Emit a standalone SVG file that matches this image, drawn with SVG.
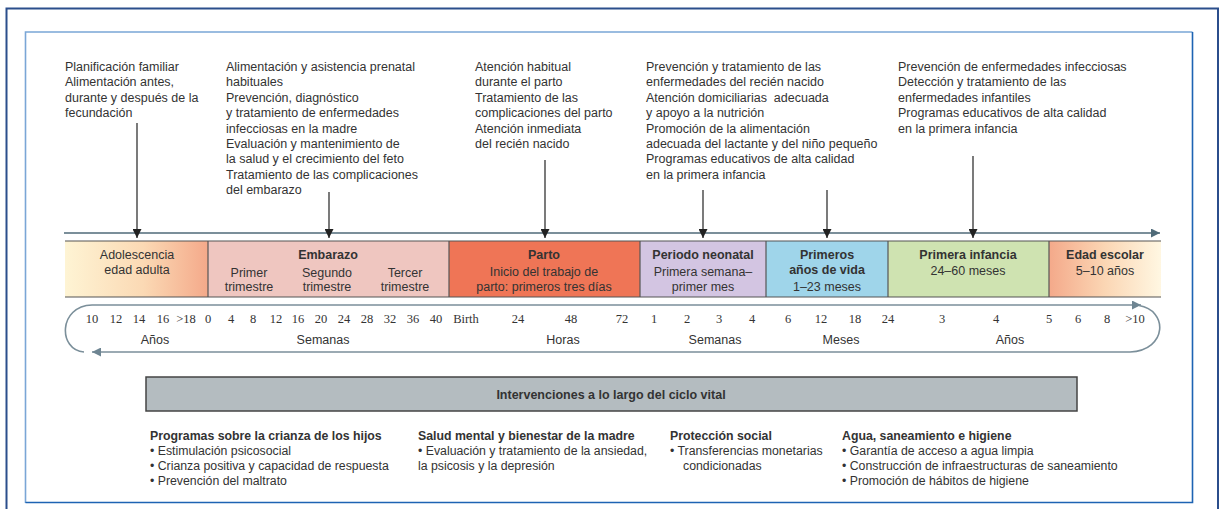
<svg xmlns="http://www.w3.org/2000/svg" width="1219" height="509" viewBox="0 0 1219 509">
<defs>
<style>
text{font-family:"Liberation Sans",Arial,sans-serif;fill:#333;}
.t{font-size:12.5px;}
.b{font-size:12.5px;font-weight:bold;}
.c{text-anchor:middle;}
.n{font-family:"Liberation Serif","DejaVu Serif",serif;font-size:12.5px;text-anchor:middle;fill:#333;}
.s{font-size:12.3px;}
.sb{font-size:12.3px;font-weight:bold;}
.pre{white-space:pre;}
.dn{stroke:#333;stroke-width:1.3;fill:none;marker-end:url(#ah);}
.band{stroke:#555;stroke-width:1.2;}
.loop{stroke:#7b8f9a;stroke-width:1.6;fill:none;}
</style>
<marker id="ah" viewBox="0 0 10 10" refX="10" refY="5" markerWidth="9" markerHeight="9" orient="auto" markerUnits="userSpaceOnUse"><path d="M0,0 L10,5 L0,10 z" fill="#222"/></marker>
<marker id="ta" viewBox="0 0 10 10" refX="10" refY="5" markerWidth="10" markerHeight="9" orient="auto" markerUnits="userSpaceOnUse"><path d="M0,0 L10,5 L0,10 z" fill="#4f6a78"/></marker>
<marker id="la" viewBox="0 0 10 10" refX="10" refY="5" markerWidth="10" markerHeight="9" orient="auto" markerUnits="userSpaceOnUse"><path d="M0,0 L10,5 L0,10 z" fill="#6e8592"/></marker>
<linearGradient id="gAdol" x1="0" y1="0" x2="1" y2="0"><stop offset="0" stop-color="#fef4d4"/><stop offset="0.55" stop-color="#fbd9b4"/><stop offset="1" stop-color="#f4a98a"/></linearGradient>
<linearGradient id="gEsc" x1="0" y1="0" x2="1" y2="0"><stop offset="0" stop-color="#f4a98a"/><stop offset="0.5" stop-color="#fbd6b4"/><stop offset="1" stop-color="#fff7e2"/></linearGradient>
</defs>
<rect width="1219" height="509" fill="#fff"/>
<!-- frames -->
<rect x="6.5" y="8.5" width="1211.5" height="520" fill="none" stroke="#2b4e8c" stroke-width="2"/>
<path d="M25.5,503 L25.5,32 L1192.5,32" fill="none" stroke="#7aa6d6" stroke-width="1.6"/>
<path d="M1192.5,32 L1192.5,502.5 L25.5,502.5" fill="none" stroke="#1d63b3" stroke-width="1.6"/>

<!-- top intervention texts -->
<g id="txt-preconcepcion">
<text class="t" x="65" y="71">Planificación familiar</text>
<text class="t" x="65" y="86.4">Alimentación antes,</text>
<text class="t" x="65" y="101.8">durante y después de la</text>
<text class="t" x="65" y="117.2">fecundación</text>
</g>
<g id="txt-embarazo">
<text class="t" x="226" y="71">Alimentación y asistencia prenatal</text>
<text class="t" x="226" y="86.4">habituales</text>
<text class="t" x="226" y="101.8">Prevención, diagnóstico</text>
<text class="t" x="226" y="117.2">y tratamiento de enfermedades</text>
<text class="t" x="226" y="132.6">infecciosas en la madre</text>
<text class="t" x="226" y="148">Evaluación y mantenimiento de</text>
<text class="t" x="226" y="163.4">la salud y el crecimiento del feto</text>
<text class="t" x="226" y="178.8">Tratamiento de las complicaciones</text>
<text class="t" x="226" y="194.2">del embarazo</text>
</g>
<g id="txt-parto">
<text class="t" x="475" y="71">Atención habitual</text>
<text class="t" x="475" y="86.4">durante el parto</text>
<text class="t" x="475" y="101.8">Tratamiento de las</text>
<text class="t" x="475" y="117.2">complicaciones del parto</text>
<text class="t" x="475" y="132.6">Atención inmediata</text>
<text class="t" x="475" y="148">del recién nacido</text>
</g>
<g id="txt-neonatal">
<text class="t" x="646" y="71">Prevención y tratamiento de las</text>
<text class="t" x="646" y="86.4">enfermedades del recién nacido</text>
<text class="t pre" x="646" y="101.8">Atención domiciliarias  adecuada</text>
<text class="t" x="646" y="117.2">y apoyo a la nutrición</text>
<text class="t" x="646" y="132.6">Promoción de la alimentación</text>
<text class="t" x="646" y="148">adecuada del lactante y del niño pequeño</text>
<text class="t" x="646" y="163.4">Programas educativos de alta calidad</text>
<text class="t" x="646" y="178.8">en la primera infancia</text>
</g>
<g id="txt-infancia">
<text class="t" x="898" y="71">Prevención de enfermedades infecciosas</text>
<text class="t" x="898" y="86.4">Detección y tratamiento de las</text>
<text class="t" x="898" y="101.8">enfermedades infantiles</text>
<text class="t" x="898" y="117.2">Programas educativos de alta calidad</text>
<text class="t" x="898" y="132.6">en la primera infancia</text>
</g>

<!-- connectors -->
<g id="connectors">
<line x1="64" y1="233" x2="1160" y2="233" stroke="#4f6a78" stroke-width="1.5" marker-end="url(#ta)"/>
<line class="dn" x1="137" y1="123" x2="137" y2="238"/>
<line class="dn" x1="329" y1="192" x2="329" y2="238"/>
<line class="dn" x1="545" y1="160" x2="545" y2="238"/>
<line class="dn" x1="703" y1="190" x2="703" y2="238"/>
<line class="dn" x1="827" y1="190" x2="827" y2="238"/>
<line class="dn" x1="973" y1="156" x2="973" y2="238"/>
<!-- loop -->
<path class="loop" d="M84,352 C58,350 58,306 92,305 L1141,305" marker-end="url(#la)"/>
<path class="loop" d="M1139,305.5 C1168,310 1168,350 1130,352 L92,352" marker-end="url(#la)"/>
</g>

<!-- band -->
<g id="band-adolescencia">
<rect x="65" y="241" width="143" height="56" fill="url(#gAdol)"/>
<text class="t c" x="137" y="258.5">Adolescencia</text>
<text class="t c" x="137" y="273.5">edad adulta</text>
</g>
<g id="band-embarazo">
<rect x="208" y="241" width="241" height="56" fill="#efc6c0"/>
<text class="b c" x="328" y="258.5">Embarazo</text>
<text class="t c" x="249" y="277">Primer</text>
<text class="t c" x="249" y="290.5">trimestre</text>
<text class="t c" x="327" y="277">Segundo</text>
<text class="t c" x="327" y="290.5">trimestre</text>
<text class="t c" x="405" y="277">Tercer</text>
<text class="t c" x="405" y="290.5">trimestre</text>
</g>
<g id="band-parto">
<rect x="449" y="241" width="191" height="56" fill="#ef7556"/>
<text class="b c" x="544" y="258.5">Parto</text>
<text class="t c" x="544" y="276">Inicio del trabajo de</text>
<text class="t c" x="544" y="291">parto: primeros tres días</text>
</g>
<g id="band-neonatal">
<rect x="640" y="241" width="126" height="56" fill="#d3c5e2"/>
<text class="b c" x="703" y="258.5">Periodo neonatal</text>
<text class="t c" x="703" y="276">Primera semana–</text>
<text class="t c" x="703" y="291">primer mes</text>
</g>
<g id="band-primeros">
<rect x="766" y="241" width="122" height="56" fill="#9fd5ea"/>
<text class="b c" x="827" y="258.5">Primeros</text>
<text class="b c" x="827" y="274">años de vida</text>
<text class="t c" x="827" y="291">1–23 meses</text>
</g>
<g id="band-infancia">
<rect x="888" y="241" width="161" height="56" fill="#cfe3b1"/>
<text class="b c" x="968" y="258.5">Primera infancia</text>
<text class="t c" x="968" y="275">24–60 meses</text>
</g>
<g id="band-escolar">
<rect x="1049" y="241" width="112" height="56" fill="url(#gEsc)"/>
<text class="b c" x="1105" y="258.5">Edad escolar</text>
<text class="t c" x="1105" y="275">5–10 años</text>
</g>
<g id="band-lines">
<line class="band" x1="65" y1="241" x2="1161" y2="241"/>
<line class="band" x1="65" y1="297" x2="1161" y2="297"/>
<line class="band" x1="208" y1="241" x2="208" y2="297"/>
<line class="band" x1="449" y1="241" x2="449" y2="297"/>
<line class="band" x1="640" y1="241" x2="640" y2="297"/>
<line class="band" x1="766" y1="241" x2="766" y2="297"/>
<line class="band" x1="888" y1="241" x2="888" y2="297"/>
<line class="band" x1="1049" y1="241" x2="1049" y2="297"/>
</g>

<!-- scale numbers -->
<g id="scale">
<text class="n" x="92" y="323">10</text>
<text class="n" x="116" y="323">12</text>
<text class="n" x="139" y="323">14</text>
<text class="n" x="163" y="323">16</text>
<text class="n" x="186" y="323">&gt;18</text>
<text class="n" x="208" y="323">0</text>
<text class="n" x="231" y="323">4</text>
<text class="n" x="253" y="323">8</text>
<text class="n" x="276" y="323">12</text>
<text class="n" x="298" y="323">16</text>
<text class="n" x="321" y="323">20</text>
<text class="n" x="344" y="323">24</text>
<text class="n" x="367" y="323">28</text>
<text class="n" x="390" y="323">32</text>
<text class="n" x="413" y="323">36</text>
<text class="n" x="436" y="323">40</text>
<text class="n" x="466" y="323">Birth</text>
<text class="n" x="518" y="323">24</text>
<text class="n" x="571" y="323">48</text>
<text class="n" x="622" y="323">72</text>
<text class="n" x="654" y="323">1</text>
<text class="n" x="687" y="323">2</text>
<text class="n" x="719" y="323">3</text>
<text class="n" x="752" y="323">4</text>
<text class="n" x="788" y="323">6</text>
<text class="n" x="821" y="323">12</text>
<text class="n" x="855" y="323">18</text>
<text class="n" x="888" y="323">24</text>
<text class="n" x="942" y="323">3</text>
<text class="n" x="996" y="323">4</text>
<text class="n" x="1049" y="323">5</text>
<text class="n" x="1078" y="323">6</text>
<text class="n" x="1107" y="323">8</text>
<text class="n" x="1135" y="323">&gt;10</text>
<text class="t c" x="155" y="344">Años</text>
<text class="t c" x="323" y="344">Semanas</text>
<text class="t c" x="563" y="344">Horas</text>
<text class="t c" x="715" y="344">Semanas</text>
<text class="t c" x="841" y="344">Meses</text>
<text class="t c" x="1010" y="344">Años</text>
</g>

<!-- interventions bar -->
<g id="interventions">
<rect x="146" y="377" width="931" height="34" fill="#b4bcc0" stroke="#444" stroke-width="1.5"/>
<text class="b c" x="611" y="398.5">Intervenciones a lo largo del ciclo vital</text>
</g>
<g id="list-crianza">
<text class="sb" x="150" y="440">Programas sobre la crianza de los hijos</text>
<text class="s" x="150" y="455">• Estimulación psicosocial</text>
<text class="s" x="150" y="470">• Crianza positiva y capacidad de respuesta</text>
<text class="s" x="150" y="485">• Prevención del maltrato</text>
</g>
<g id="list-salud">
<text class="sb" x="418" y="440">Salud mental y bienestar de la madre</text>
<text class="s" x="418" y="455">• Evaluación y tratamiento de la ansiedad,</text>
<text class="s" x="418" y="470">la psicosis y la depresión</text>
</g>
<g id="list-proteccion">
<text class="sb" x="670" y="440">Protección social</text>
<text class="s" x="670" y="455">• Transferencias monetarias</text>
<text class="s" x="683" y="470">condicionadas</text>
</g>
<g id="list-agua">
<text class="sb" x="842" y="440">Agua, saneamiento e higiene</text>
<text class="s" x="842" y="455">• Garantía de acceso a agua limpia</text>
<text class="s" x="842" y="470">• Construcción de infraestructuras de saneamiento</text>
<text class="s" x="842" y="485">• Promoción de hábitos de higiene</text>
</g>
</svg>
